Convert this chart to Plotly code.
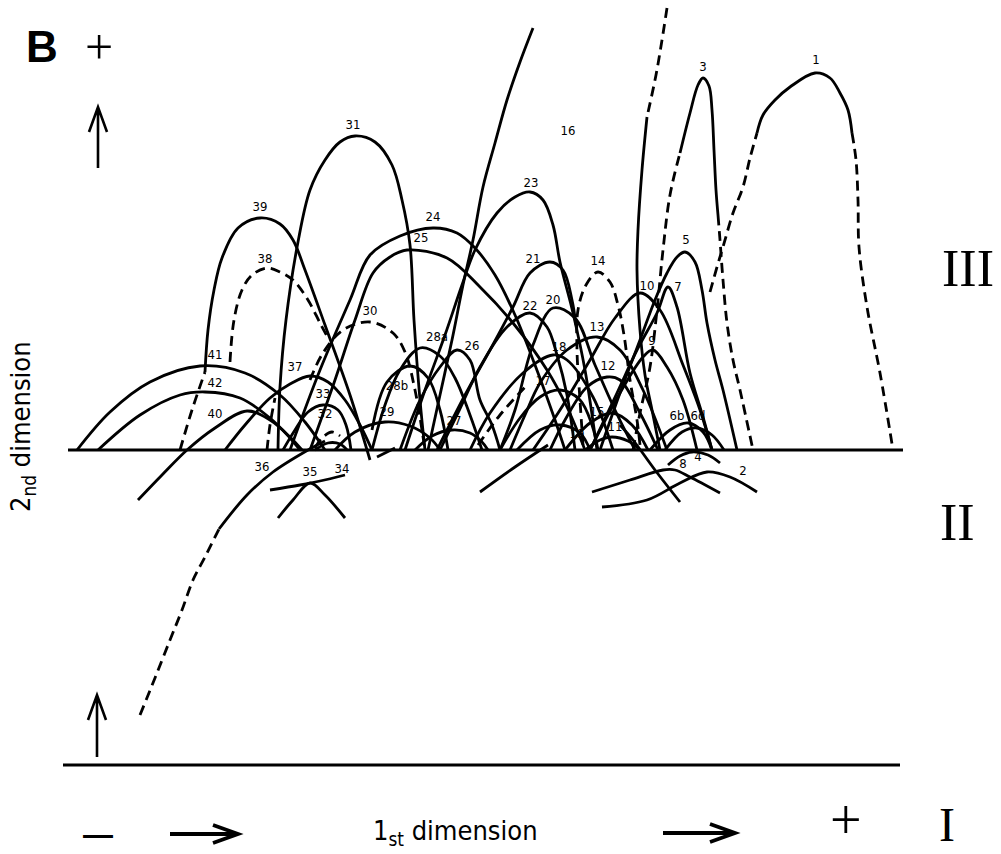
import plotly.graph_objects as go

# ---------------- data (pixel-like units) ----------------
BASE_X = [68, 903]
BASE_Y = [450, 450]
BOTTOM_X = [63, 900]
BOTTOM_Y = [765, 765]

# solid precipitation lines
ARC_41 = [(77, 450), (110, 412), (150, 382), (200, 366), (245, 373), (280, 395), (305, 422), (325, 450)]
ARC_42 = [(98, 450), (140, 415), (180, 395), (205, 392), (240, 398), (270, 418), (290, 438), (300, 450)]
ARC_40 = [(138, 500), (162, 475), (187, 450), (215, 428), (247, 411), (270, 420), (290, 437), (302, 450)]
ARC_39 = [(205, 372), (208, 330), (214, 290), (222, 258), (238, 228), (260, 218), (280, 224), (293, 240),
          (305, 270), (325, 325), (350, 395), (370, 460)]
ARC_31 = [(278, 450), (280, 387), (286, 320), (298, 242), (310, 190), (325, 160), (340, 142), (355, 136),
          (375, 142), (392, 165), (402, 200), (410, 245), (414, 320), (420, 400), (425, 450)]
ARC_37 = [(225, 450), (245, 425), (270, 398), (290, 384), (310, 376), (328, 382), (345, 400), (360, 425), (372, 450)]
ARC_33 = [(283, 450), (295, 430), (308, 412), (323, 405), (338, 410), (346, 425), (351, 450)]
ARC_32S = [(315, 450), (328, 443), (340, 444), (347, 450)]
ARC_36 = [(219, 529), (247, 495), (273, 472), (308, 450), (325, 441)]
ARC_35 = [(278, 518), (293, 500), (310, 483), (325, 495), (345, 518)]
ARC_34 = [(270, 490), (300, 485), (320, 481), (345, 475)]
ARC_29 = [(335, 450), (355, 432), (385, 422), (410, 426), (430, 438), (440, 450)]
ARC_28A = [(372, 450), (385, 405), (400, 370), (420, 348), (440, 356), (455, 378), (470, 415), (482, 450)]
ARC_28B = [(372, 430), (387, 382), (410, 366), (428, 378), (440, 410), (448, 450)]
ARC_26 = [(400, 450), (420, 400), (440, 367), (457, 350), (470, 360), (480, 400), (492, 425), (500, 450)]
ARC_27 = [(415, 450), (432, 436), (452, 430), (470, 433), (482, 442), (488, 450)]
ARC_24 = [(290, 450), (320, 370), (350, 300), (370, 255), (400, 236), (433, 228), (457, 233), (475, 248),
          (495, 275), (515, 315), (535, 365), (555, 420), (565, 450)]
ARC_25 = [(310, 450), (335, 380), (355, 320), (373, 273), (390, 257), (407, 250), (447, 258), (480, 287),
          (513, 323), (547, 370), (567, 407), (585, 450)]
LINE_16 = [(533, 28), (520, 62), (507, 100), (495, 143), (483, 187), (473, 240), (463, 285), (452, 340),
           (440, 395), (428, 450)]
ARC_23 = [(405, 450), (425, 390), (445, 335), (462, 285), (475, 250), (497, 213), (515, 197), (530, 192),
          (543, 200), (553, 225), (560, 262), (573, 313), (585, 370), (597, 450)]
ARC_21 = [(437, 450), (465, 395), (490, 350), (513, 307), (530, 273), (550, 262), (563, 270), (572, 300), (576, 325)]
ARC_22 = [(440, 450), (458, 413), (480, 367), (507, 327), (530, 313), (547, 327), (557, 355), (567, 395), (575, 450)]
ARC_20 = [(500, 450), (515, 410), (533, 345), (553, 308), (575, 318), (595, 365), (615, 410), (635, 450)]
ARC_13 = [(510, 450), (525, 415), (540, 383), (567, 350), (597, 337), (620, 350), (643, 390), (667, 450)]
ARC_18 = [(470, 450), (490, 413), (523, 373), (553, 355), (567, 360), (593, 397), (613, 450)]
ARC_17 = [(500, 450), (520, 418), (540, 397), (560, 390), (580, 400), (592, 425), (598, 450)]
ARC_19 = [(517, 450), (540, 430), (560, 425), (580, 433), (590, 450)]
ARC_15 = [(565, 450), (590, 423), (612, 413), (632, 425), (648, 450)]
ARC_12 = [(550, 450), (565, 420), (587, 387), (607, 377), (620, 380), (640, 413), (658, 450)]
ARC_11 = [(585, 450), (600, 440), (612, 437), (628, 441), (640, 450)]
ARC_10 = [(533, 450), (560, 410), (590, 360), (615, 318), (640, 293), (660, 310), (683, 365), (700, 410), (712, 450)]
LONG_S = [(647, 117), (642, 170), (638, 230), (637, 270), (640, 330), (645, 375), (652, 410), (660, 450)]
ARC_3 = [(680, 153), (690, 113), (698, 85), (703, 78), (709, 86), (712, 110), (714, 150), (716, 190), (718, 215)]
ARC_1 = [(757, 133), (763, 115), (775, 100), (790, 87), (815, 73), (830, 78), (840, 93), (848, 110), (852, 133)]
ARC_5 = [(600, 450), (620, 393), (640, 340), (655, 300), (667, 273), (677, 257), (685, 252), (695, 262),
         (702, 290), (707, 323), (715, 360), (723, 390), (737, 450)]
ARC_7 = [(590, 450), (617, 393), (637, 350), (657, 313), (668, 287), (677, 307), (690, 373), (703, 417), (712, 450)]
ARC_9 = [(590, 450), (620, 393), (643, 357), (653, 350), (667, 367), (683, 400), (697, 450)]
ARC_6B = [(650, 450), (670, 430), (688, 423), (703, 432), (712, 450)]
ARC_6D = [(665, 450), (682, 432), (697, 428), (712, 435), (724, 450)]
ARC_4 = [(668, 465), (680, 456), (692, 452), (708, 455), (720, 463)]
ARC_8 = [(592, 492), (630, 480), (663, 470), (675, 470), (690, 477), (720, 493)]
ARC_2 = [(602, 507), (647, 500), (680, 483), (707, 472), (730, 477), (757, 492)]
LINE_X1 = [(620, 425), (633, 440), (655, 470), (680, 502)]
LINE_X2 = [(480, 492), (515, 467), (548, 445)]
LINE_X3 = [(377, 457), (395, 448)]

# dashed precipitation lines
DASH_39 = [(180, 450), (192, 410), (205, 372)]
DASH_38 = [(230, 362), (234, 320), (242, 290), (252, 275), (267, 268), (280, 272), (293, 280), (308, 300),
           (320, 323), (328, 338)]
DASH_SMALL = [(267, 450), (270, 425), (275, 398)]
DASH_32 = [(315, 448), (322, 438), (332, 432), (340, 436)]
DASH_36 = [(140, 715), (155, 678), (170, 640), (182, 610), (193, 580), (205, 557), (219, 529)]
DASH_30 = [(310, 380), (323, 353), (343, 330), (370, 322), (393, 333), (405, 352), (415, 390), (425, 450)]
DASH_17 = [(478, 445), (500, 415), (527, 385)]
DASH_14 = [(583, 445), (580, 400), (577, 350), (578, 310), (586, 285), (598, 272), (610, 282), (618, 305),
           (624, 335), (630, 380), (637, 420), (640, 445)]
DASH_LONG = [(667, 8), (662, 40), (656, 75), (647, 117)]
DASH_3L = [(633, 450), (640, 413), (650, 367), (657, 310), (663, 250), (670, 195), (680, 153)]
DASH_3R = [(718, 215), (720, 240), (723, 280), (727, 323), (733, 360), (740, 390), (753, 450)]
DASH_1L = [(710, 292), (717, 267), (723, 247), (733, 213), (743, 187), (750, 158), (757, 133)]
DASH_1R = [(852, 133), (856, 160), (858, 200), (859, 247), (867, 307), (880, 373), (893, 450)]

SOLID = [ARC_41, ARC_42, ARC_40, ARC_39, ARC_31, ARC_37, ARC_33, ARC_32S, ARC_36, ARC_35, ARC_34, ARC_29,
         ARC_28A, ARC_28B, ARC_26, ARC_27, ARC_24, ARC_25, LINE_16, ARC_23, ARC_21, ARC_22, ARC_20, ARC_13,
         ARC_18, ARC_17, ARC_19, ARC_15, ARC_12, ARC_11, ARC_10, LONG_S, ARC_3, ARC_1, ARC_5, ARC_7, ARC_9,
         ARC_6B, ARC_6D, ARC_4, ARC_8, ARC_2, LINE_X1, LINE_X2, LINE_X3]
DASHED = [DASH_39, DASH_38, DASH_SMALL, DASH_32, DASH_36, DASH_30, DASH_17, DASH_14, DASH_LONG, DASH_3L,
          DASH_3R, DASH_1L, DASH_1R]

# peak labels
LABELS = ["1", "2", "3", "4", "5", "6b", "6d", "7", "8", "9", "10", "11", "12", "13", "14", "15", "16", "17",
          "18", "19", "20", "21", "22", "23", "24", "25", "26", "27", "28a", "28b", "29", "30", "31", "32", "33",
          "34", "35", "36", "37", "38", "39", "40", "41", "42"]
LABEL_X = [816, 743, 703, 698, 686, 677, 698, 678, 683, 652, 647, 615, 608, 597, 598, 597, 568, 543,
           559, 577, 553, 533, 530, 531, 433, 421, 472, 454, 437, 397, 387, 370, 353, 325, 323,
           342, 310, 262, 295, 265, 260, 215, 215, 215]
LABEL_Y = [61, 472, 68, 458, 241, 417, 417, 288, 465, 342, 287, 428, 367, 328, 262, 413, 132, 382,
           348, 435, 301, 260, 307, 184, 218, 239, 347, 422, 338, 387, 413, 312, 126, 415, 395,
           470, 473, 468, 368, 260, 208, 415, 356, 384]

# direction arrows: (tail x, tail y, tip x, tip y)
ARROWS = [(98, 168, 98, 107), (97, 757, 97, 695), (170, 834, 238, 834), (663, 833, 735, 833)]
ARROW_WIDTHS = [2.6, 2.6, 3.8, 3.8]

COND = "DejaVu Sans Condensed, DejaVu Sans, sans-serif"
SERIF = "Liberation Serif, serif"

# --------------------------------- figure ---------------------------------
fig = go.Figure()

for xs, ys in [(BASE_X, BASE_Y), (BOTTOM_X, BOTTOM_Y)]:
    fig.add_trace(go.Scatter(x=xs, y=ys, mode="lines", line=dict(color="black", width=3.2),
                             hoverinfo="skip"))

for seg in SOLID:
    fig.add_trace(go.Scatter(x=[p[0] for p in seg], y=[p[1] for p in seg], mode="lines",
                             line=dict(color="black", width=2.8, shape="spline", smoothing=1.0),
                             hoverinfo="skip"))
for seg in DASHED:
    fig.add_trace(go.Scatter(x=[p[0] for p in seg], y=[p[1] for p in seg], mode="lines",
                             line=dict(color="black", width=2.8, shape="spline", smoothing=1.0,
                                       dash="10px,6px"),
                             hoverinfo="skip"))

fig.add_trace(go.Scatter(x=LABEL_X, y=LABEL_Y, mode="text", text=LABELS,
                         textfont=dict(family=COND, size=13, color="black"),
                         hoverinfo="skip"))

# arrows as open-V path shapes
shapes = []
for (x0, y0, x1, y1), w in zip(ARROWS, ARROW_WIDTHS):
    dx, dy = x1 - x0, y1 - y0
    L = (dx * dx + dy * dy) ** 0.5
    ux, uy = dx / L, dy / L
    px, py = -uy, ux
    back, half = 25, 9
    bx, by = x1 - ux * back, y1 - uy * back
    path = (f"M{x0},{y0} L{x1},{y1} "
            f"M{bx + px * half},{by + py * half} L{x1},{y1} L{bx - px * half},{by - py * half}")
    shapes.append(dict(type="path", path=path, xref="x", yref="y",
                       line=dict(color="black", width=w)))

ann = []


def txt(x, y, s, size, family, **kw):
    ann.append(dict(x=x, y=y, xref="x", yref="y", text=s, showarrow=False,
                    font=dict(family=family, size=size, color="black"), **kw))


txt(42, 46, "<b>B</b>", 44, "Liberation Sans")
txt(99, 47, "+", 50, SERIF)
txt(968, 268, "III", 52, SERIF)
txt(957, 522, "II", 52, SERIF)
txt(947, 853, "I", 48, SERIF, yanchor="bottom")
txt(98, 853, "<b>—</b>", 30, "Liberation Sans", yanchor="bottom")
txt(846, 853, "+", 56, SERIF, yanchor="bottom")
txt(455, 832, "1<sub>st</sub> dimension", 27, COND)
txt(22, 427, "2<sub>nd</sub> dimension", 27, COND, textangle=-90)

fig.update_layout(
    width=1001, height=854, margin=dict(l=0, r=0, t=0, b=0),
    paper_bgcolor="white", plot_bgcolor="white", showlegend=False,
    xaxis=dict(range=[0, 1001], visible=False, fixedrange=True),
    yaxis=dict(range=[854, 0], visible=False, fixedrange=True),
    annotations=ann, shapes=shapes,
)

fig.write_html("out.html", config={"displayModeBar": False},
               post_script="document.body.style.margin='0';")
